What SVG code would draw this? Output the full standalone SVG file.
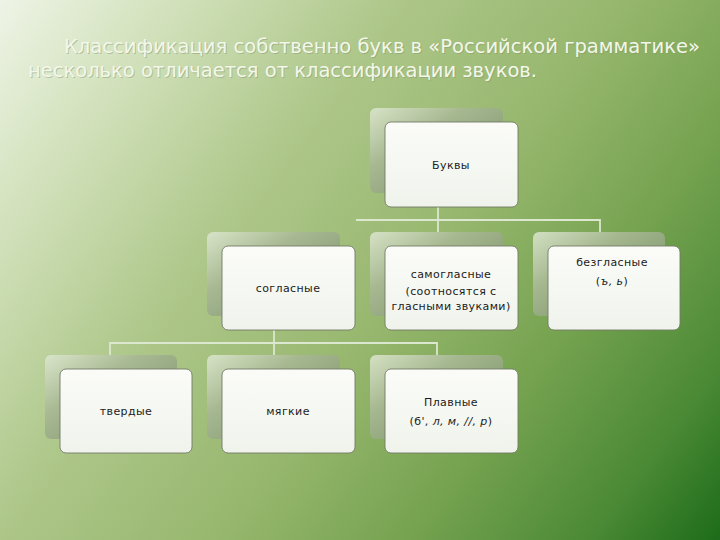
<svg xmlns="http://www.w3.org/2000/svg" width="720" height="540" viewBox="0 0 720 540">
  <defs>
    <linearGradient id="bg" gradientUnits="userSpaceOnUse" x1="0" y1="0" x2="720" y2="540">
      <stop offset="0" stop-color="#eef4e6"/>
      <stop offset="0.15" stop-color="#d3e2bd"/>
      <stop offset="0.35" stop-color="#aec78a"/>
      <stop offset="0.55" stop-color="#97b76e"/>
      <stop offset="0.72" stop-color="#76a350"/>
      <stop offset="0.88" stop-color="#4c8a36"/>
      <stop offset="1" stop-color="#1d6c19"/>
    </linearGradient>
    <linearGradient id="back" x1="0" y1="0" x2="1" y2="1">
      <stop offset="0" stop-color="#dfe8d2" stop-opacity="0.85"/>
      <stop offset="0.35" stop-color="#a8b894" stop-opacity="0.9"/>
      <stop offset="1" stop-color="#6f8660" stop-opacity="0.95"/>
    </linearGradient>
    <linearGradient id="front" x1="0" y1="0" x2="0" y2="1">
      <stop offset="0" stop-color="#fbfcf8"/>
      <stop offset="1" stop-color="#f0f3ec"/>
    </linearGradient>
  </defs>
  <style>
    .title { font-family: "DejaVu Sans", Verdana, sans-serif; font-size: 19px; fill: #f3f7ea; }
    .shadow { font-family: "DejaVu Sans", Verdana, sans-serif; font-size: 19px; fill: #7f9466; fill-opacity: 0.45; }
    .back { fill: url(#back); }
    .front { fill: url(#front); stroke: #737b68; stroke-width: 0.9; }
    .lbl { font-family: "DejaVu Sans", Verdana, sans-serif; font-size: 11px; letter-spacing: 0.4px; fill: #1b1b1b; text-anchor: middle; }
    .it { font-style: italic; }
    .conn { fill: none; stroke: #dce7cf; stroke-width: 1.8; }
  </style>

  <rect x="0" y="0" width="720" height="540" fill="url(#bg)"/>

  <g id="title">
    <text class="shadow" x="65" y="54" textLength="636" lengthAdjust="spacingAndGlyphs">Классификация собственно букв в «Российской грамматике»</text>
    <text class="shadow" x="29" y="78" textLength="509" lengthAdjust="spacingAndGlyphs">несколько отличается от классификации звуков.</text>
    <text class="title" x="64" y="53" textLength="636" lengthAdjust="spacingAndGlyphs">Классификация собственно букв в «Российской грамматике»</text>
    <text class="title" x="28" y="77" textLength="509" lengthAdjust="spacingAndGlyphs">несколько отличается от классификации звуков.</text>
  </g>

  <g id="connectors">
    <path class="conn" d="M438,207 V232"/>
    <path class="conn" d="M356,220 H600 V232"/>
    <path class="conn" d="M274,330 V355"/>
    <path class="conn" d="M110,355 V343 H437 V355"/>
  </g>

  <g id="node-bukvy">
    <rect class="back" x="370" y="108" width="133" height="85" rx="6"/>
    <rect class="front" x="385" y="122" width="133" height="85" rx="6"/>
    <text class="lbl" x="451" y="169">Буквы</text>
  </g>

  <g id="node-soglasnye">
    <rect class="back" x="207" y="232" width="133" height="84" rx="6"/>
    <rect class="front" x="222" y="246" width="133" height="84" rx="6"/>
    <text class="lbl" x="288" y="292">согласные</text>
  </g>

  <g id="node-samoglasnye">
    <rect class="back" x="370" y="232" width="133" height="84" rx="6"/>
    <rect class="front" x="385" y="246" width="133" height="84" rx="6"/>
    <text class="lbl" x="451" y="278">самогласные</text>
    <text class="lbl" x="451" y="295">(соотносятся с</text>
    <text class="lbl" x="451" y="310">гласными звуками)</text>
  </g>

  <g id="node-bezglasnye">
    <rect class="back" x="533" y="232" width="132" height="84" rx="6"/>
    <rect class="front" x="548" y="246" width="132" height="84" rx="6"/>
    <text class="lbl" x="612" y="266">безгласные</text>
    <text class="lbl" x="612" y="285">(<tspan class="it">ъ, ь</tspan>)</text>
  </g>

  <g id="node-tverdye">
    <rect class="back" x="45" y="355" width="132" height="84" rx="6"/>
    <rect class="front" x="60" y="369" width="132" height="84" rx="6"/>
    <text class="lbl" x="126" y="415">твердые</text>
  </g>

  <g id="node-myagkie">
    <rect class="back" x="207" y="355" width="133" height="84" rx="6"/>
    <rect class="front" x="222" y="369" width="133" height="84" rx="6"/>
    <text class="lbl" x="288" y="415">мягкие</text>
  </g>

  <g id="node-plavnye">
    <rect class="back" x="370" y="355" width="133" height="84" rx="6"/>
    <rect class="front" x="385" y="369" width="133" height="84" rx="6"/>
    <text class="lbl" x="451" y="406">Плавные</text>
    <text class="lbl" x="451" y="425">(б', <tspan class="it">л, м, //, р</tspan>)</text>
  </g>
</svg>
